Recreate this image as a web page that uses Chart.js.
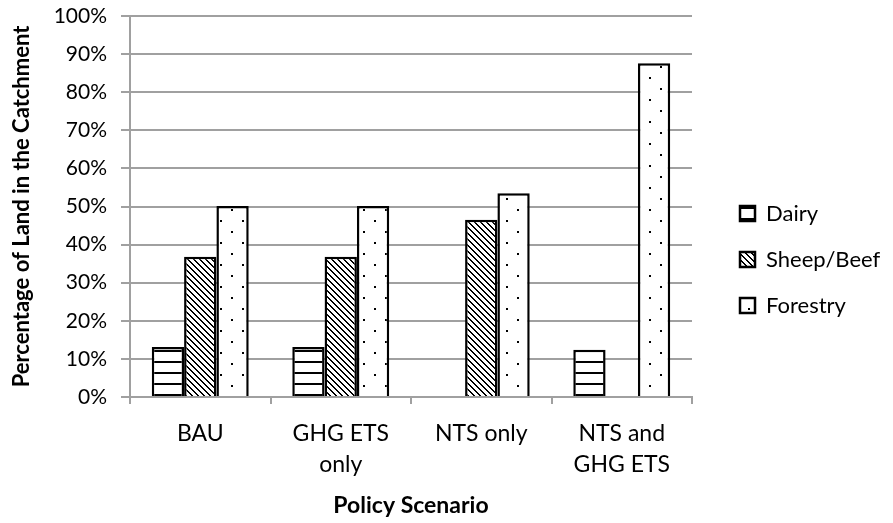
<!DOCTYPE html>
<html>
<head>
<meta charset="utf-8">
<script src="https://cdn.jsdelivr.net/npm/chart.js@4"></script>
<style>
  html, body { margin: 0; padding: 0; background: #fff; }
  #wrap { width: 893px; height: 523px; }
</style>
</head>
<body>
<div id="wrap"><canvas id="myChart"></canvas></div>
<script>
// data
var scenarios = [["BAU"], ["GHG ETS", "only"], ["NTS only"], ["NTS and", "GHG ETS"]];
var dairy = [13.1, 13.1, null, 12.4];
var sheepBeef = [36.8, 36.8, 46.5, null];
var forestry = [50.1, 50.1, 53.5, 87.6];
var yTicks = [0, 10, 20, 30, 40, 50, 60, 70, 80, 90, 100];

function makePattern(w, h, draw) {
  var c = document.createElement("canvas");
  c.width = w; c.height = h;
  var g = c.getContext("2d");
  g.fillStyle = "#fff";
  g.fillRect(0, 0, w, h);
  g.fillStyle = "#000";
  draw(g);
  return document.getElementById("myChart").getContext("2d").createPattern(c, "repeat");
}

var horizPat = makePattern(10, 11, function(g) { g.fillRect(0, 9, 10, 2); });
var diagPat = makePattern(6, 6, function(g) {
  for (var i = 0; i < 6; i++) { g.fillRect(i, i, 2, 1); }
  g.fillRect(0, 5, 1, 1);
});
var dotPat = makePattern(22, 22, function(g) {
  g.fillRect(0, 0, 2, 2);
  g.fillRect(11, 11, 2, 2);
});

Chart.defaults.font.family = "Lato";
Chart.defaults.color = "#000";

// legend sits a bit further right and higher than chart.js puts it
var legendPlace = {
  id: "legendPlace",
  beforeInit: function(chart) {
    var fit = chart.legend.fit;
    chart.legend.fit = function() {
      fit.call(chart.legend);
      this.width = 201;
    };
  },
  afterLayout: function(chart) {
    var l = chart.legend;
    l.left += 24; l.right += 24;
    l.top -= 10; l.bottom -= 10;
  }
};

var ctx = document.getElementById("myChart");
var myChart = new Chart(ctx, {
  type: 'bar',
  data: {
    labels: scenarios,
    datasets: [{
      label: 'Dairy',
      data: dairy,
      backgroundColor: horizPat,
      borderColor: '#000',
      borderWidth: 2.5
    }, {
      label: 'Sheep/Beef',
      data: sheepBeef,
      backgroundColor: diagPat,
      borderColor: '#000',
      borderWidth: 2.5
    }, {
      label: 'Forestry',
      data: forestry,
      backgroundColor: dotPat,
      borderColor: '#000',
      borderWidth: 2.5
    }]
  },
  options: {
    responsive: true,
    maintainAspectRatio: false,
    animation: false,
    layout: { padding: { top: 16, left: 0, right: 0, bottom: 0 } },
    datasets: { bar: { categoryPercentage: 0.69, barPercentage: 1.0 } },
    plugins: {
      tooltip: { enabled: false },
      legend: {
        position: 'right',
        labels: {
          font: { size: 22 },
          boxWidth: 15,
          boxHeight: 15,
          padding: 24
        }
      }
    },
    scales: {
      x: {
        grid: { offset: true, drawOnChartArea: false, color: '#a0a0a0', lineWidth: 2, tickLength: 7 },
        border: { color: '#a0a0a0', width: 2 },
        ticks: { font: { size: 23, lineHeight: 1.35 }, padding: 14, maxRotation: 0 },
        title: { display: true, text: 'Policy Scenario', font: { size: 23, weight: 'bold' }, padding: { top: 4, bottom: 4 } },
        afterFit: function(s) { s.height = 126; }
      },
      y: {
        min: 0,
        max: 100,
        afterBuildTicks: function(s) { s.ticks = yTicks.map(function(v) { return { value: v }; }); },
        grid: { color: '#a0a0a0', lineWidth: 2, tickLength: 9 },
        border: { color: '#a0a0a0', width: 2 },
        ticks: { font: { size: 21 }, padding: 14, callback: function(v) { return v + '%'; } },
        title: { display: true, text: 'Percentage of Land in the Catchment', font: { size: 22, weight: 'bold' }, padding: { top: 9, bottom: 0 } },
        afterFit: function(s) {
          s.width = 130;
          s.paddingTop = 0;
          s.paddingBottom = 0;
        }
      }
    }
  },
  plugins: [legendPlace]
});
</script>
</body>
</html>
